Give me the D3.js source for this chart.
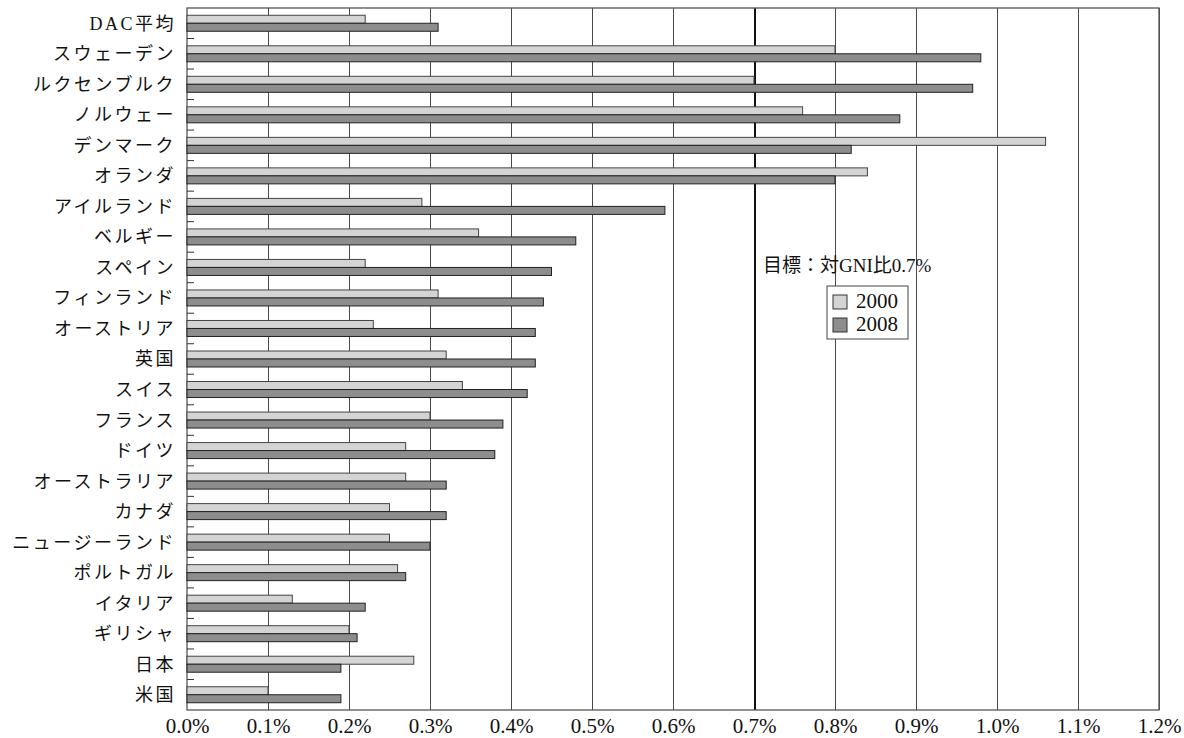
<!DOCTYPE html>
<html>
<head>
<meta charset="utf-8">
<script src="https://cdn.jsdelivr.net/npm/d3@7"></script>
<style>
  body { margin: 0; background: #fff; }
  svg { display: block; }
</style>
</head>
<body>
<svg id="chart"></svg>
<script>
const categories = ["DAC平均", "スウェーデン", "ルクセンブルク", "ノルウェー", "デンマーク", "オランダ",
    "アイルランド", "ベルギー", "スペイン", "フィンランド", "オーストリア", "英国", "スイス", "フランス",
    "ドイツ", "オーストラリア", "カナダ", "ニュージーランド", "ポルトガル", "イタリア", "ギリシャ", "日本", "米国"];
const v2000 = [0.22, 0.80, 0.70, 0.76, 1.06, 0.84, 0.29, 0.36, 0.22, 0.31, 0.23, 0.32, 0.34, 0.30,
    0.27, 0.27, 0.25, 0.25, 0.26, 0.13, 0.20, 0.28, 0.10];
const v2008 = [0.31, 0.98, 0.97, 0.88, 0.82, 0.80, 0.59, 0.48, 0.45, 0.44, 0.43, 0.43, 0.42, 0.39,
    0.38, 0.32, 0.32, 0.30, 0.27, 0.22, 0.21, 0.19, 0.19];
const seriesNames = ["2000", "2008"];
const xTicks = [0, 0.1, 0.2, 0.3, 0.4, 0.5, 0.6, 0.7, 0.8, 0.9, 1.0, 1.1, 1.2];
const target = 0.7;
const targetLabel = "目標：対GNI比0.7%";

const W = 1184, H = 738;
const pLeft = 187, pRight = 1159, pTop = 8, pBottom = 710;
const colors = { "2000": "#d4d4d4", "2008": "#8d8d8d" };
const latin = "'Liberation Serif', 'Noto Sans CJK JP', serif";
const jp = "'Liberation Serif', 'Noto Sans CJK JP', serif";

let svg = d3.select("#chart").attr("width", W).attr("height", H);

const x = d3.scaleLinear().domain([0, 1.2]).range([pLeft, pRight]);
const y = d3.scaleBand().domain(categories).range([pTop, pBottom]).padding(0);
const ySub = d3.scaleBand().domain(seriesNames)
    .range([y.bandwidth() / 2 - 8, y.bandwidth() / 2 + 8]);

// grid lines
svg.append("g").attr("shape-rendering", "crispEdges")
    .selectAll("line").data(xTicks.slice(1)).join("line")
    .attr("x1", d => Math.round(x(d)) + 0.5).attr("x2", d => Math.round(x(d)) + 0.5)
    .attr("y1", pTop).attr("y2", pBottom)
    .style("stroke", d => Math.abs(d - target) < 1e-9 ? "#111" : "#4a4a4a")
    .style("stroke-width", d => Math.abs(d - target) < 1e-9 ? 2 : 1);

// frame
svg.append("rect").attr("x", pLeft).attr("y", pTop)
    .attr("width", pRight - pLeft).attr("height", pBottom - pTop)
    .style("fill", "none").style("stroke", "#555").style("stroke-width", 1.3);

// bars
const rows = categories.map((c, i) => ({ c: c, vals: [
    { s: "2000", v: v2000[i] }, { s: "2008", v: v2008[i] }] }));

const grp = svg.append("g").selectAll("g").data(rows).join("g")
    .attr("transform", d => `translate(0,${y(d.c)})`);
grp.selectAll("rect").data(d => d.vals).join("rect")
    .attr("x", x(0))
    .attr("y", d => ySub(d.s))
    .attr("width", d => x(d.v) - x(0))
    .attr("height", ySub.bandwidth())
    .style("fill", d => colors[d.s])
    .style("stroke", d => d.s == "2000" ? "#444" : "#222")
    .style("stroke-width", 1);

// y axis: small inward ticks at band borders
svg.append("g").selectAll("line").data(categories.slice(1)).join("line")
    .attr("x1", pLeft).attr("x2", pLeft + 7)
    .attr("y1", d => y(d)).attr("y2", d => y(d))
    .style("stroke", "#333").style("stroke-width", 1);

svg.append("g").selectAll("text").data(categories).join("text")
    .attr("x", 176)
    .attr("y", d => y(d) + y.bandwidth() / 2)
    .attr("dy", "0.36em")
    .attr("text-anchor", "end")
    .style("font-family", jp)
    .style("font-size", "18px")
    .style("letter-spacing", "2.5px")
    .style("fill", "#111")
    .text(d => d);

// x axis labels
const xAxis = d3.axisBottom(x).tickValues(xTicks).tickSize(0)
    .tickFormat(d => d.toFixed(1) + "%");
const xg = svg.append("g").attr("transform", `translate(0,${pBottom})`).call(xAxis);
xg.select(".domain").remove();
xg.selectAll("text")
    .attr("y", 8)
    .style("font-family", latin)
    .style("font-size", "21px")
    .style("fill", "#111");

// target annotation
svg.append("text")
    .attr("x", x(target) + 9).attr("y", 272)
    .style("font-family", jp)
    .style("font-size", "19px")
    .style("fill", "#111")
    .text(targetLabel);

// legend
const lg = svg.append("g").attr("transform", "translate(827,286)");
lg.append("rect").attr("width", 81).attr("height", 53)
    .style("fill", "#fff").style("stroke", "#444").style("stroke-width", 1);
seriesNames.forEach((s, i) => {
    lg.append("rect").attr("x", 6).attr("y", 9 + i * 23)
        .attr("width", 14).attr("height", 14)
        .style("fill", colors[s]).style("stroke", "#333");
    lg.append("text").attr("x", 29).attr("y", 22 + i * 23)
        .style("font-family", latin).style("font-size", "21px").style("fill", "#111")
        .text(s);
});
</script>
</body>
</html>
